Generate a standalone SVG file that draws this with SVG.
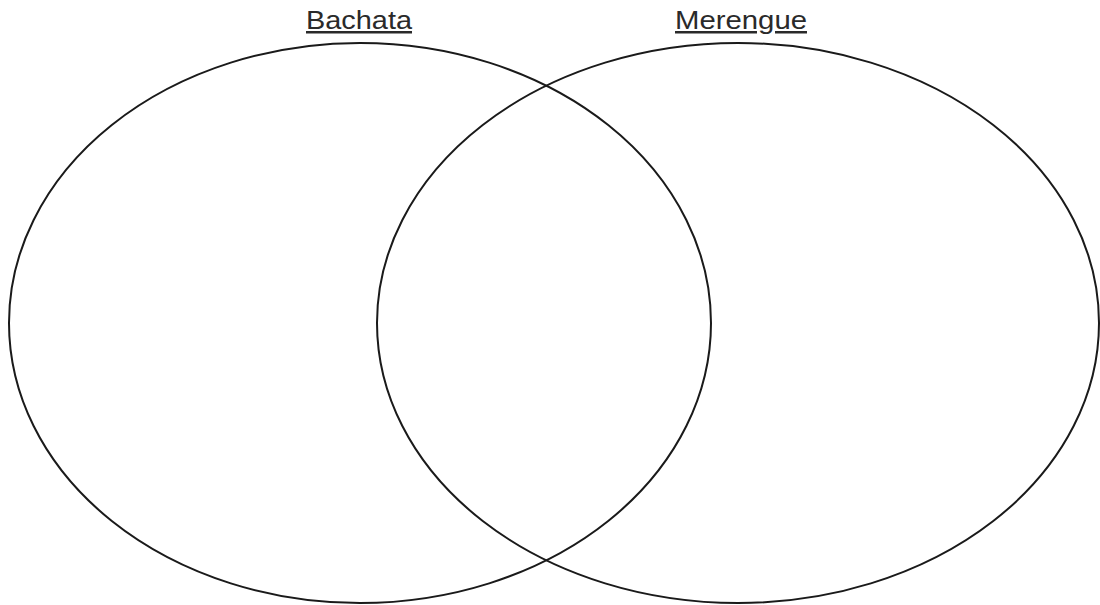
<svg xmlns="http://www.w3.org/2000/svg" width="1100" height="605" viewBox="0 0 1100 605">
<style>
.c{fill:none;stroke:#1a1a1a;stroke-width:2}
.t{font-family:"Liberation Sans",Arial,sans-serif;font-size:25px;fill:#2a2a2a;text-decoration:underline;text-anchor:middle}
</style>
<rect width="1100" height="605" fill="#fff"/>
<g id="bachata">
<ellipse class="c" cx="360" cy="323" rx="351" ry="280"/>
<text class="t" x="359" y="29" textLength="106" lengthAdjust="spacingAndGlyphs">Bachata</text>
</g>
<g id="merengue">
<ellipse class="c" cx="738" cy="323" rx="361" ry="280"/>
<text class="t" x="741" y="29" textLength="132" lengthAdjust="spacingAndGlyphs">Merengue</text>
</g>
<g id="connectors"/>
</svg>
